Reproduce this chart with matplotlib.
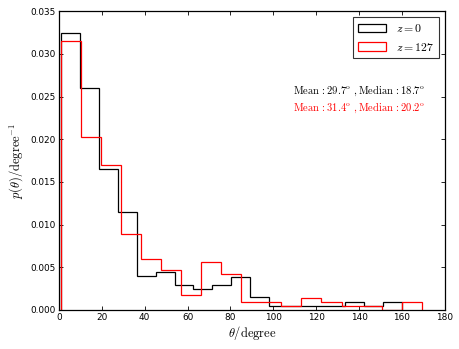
import numpy as np
import matplotlib
matplotlib.use("Agg")
import matplotlib.pyplot as plt

# bin edges (18 bins each) and densities
edges_z0 = np.linspace(0.9, 160.0, 19)
dens_z0 = [0.0325, 0.0260, 0.0165, 0.0115, 0.0040, 0.0044, 0.0029, 0.0024, 0.0029,
           0.0039, 0.0015, 0.00047, 0.00047, 0.00047, 0.00047, 0.0009, 0.00047, 0.0009]

edges_z127 = np.linspace(1.0, 169.2, 19)
dens_z127 = [0.0315, 0.0203, 0.0170, 0.0089, 0.0060, 0.0047, 0.0018, 0.0056, 0.0042,
             0.0009, 0.0009, 0.00047, 0.00135, 0.0009, 0.00047, 0.00047, 0.0, 0.0009]

stats_z0 = r"$\mathrm{Mean}\,:29.7^{\rm o}\ ,\mathrm{Median}\,:18.7^{\rm o}$"
stats_z127 = r"$\mathrm{Mean}\,:31.4^{\rm o}\ ,\mathrm{Median}\,:20.2^{\rm o}$"

plt.rcParams['mathtext.fontset'] = 'cm'
plt.rcParams['font.size'] = 6.4

fig = plt.figure(figsize=(4.6, 3.49), dpi=100)
ax = fig.add_axes([0.128, 0.112, 0.839, 0.856])

ax.hist(edges_z0[:-1], bins=edges_z0, weights=dens_z0, histtype='step',
        color='black', lw=0.9, label='$z=0$')
ax.hist(edges_z127[:-1], bins=edges_z127, weights=dens_z127, histtype='step',
        color='red', lw=0.9, label='$z=127$')

ax.text(109, 0.0257, stats_z0, color='black', fontsize=7.6, va='center')
ax.text(109, 0.0237, stats_z127, color='red', fontsize=7.6, va='center')

ax.set_xlim(0, 180)
ax.set_ylim(0, 0.035)
ax.set_xticks(np.arange(0, 181, 20))
ax.set_yticks(np.arange(0, 0.0351, 0.005))
ax.tick_params(direction='in', top=True, right=True, length=3, width=0.6, pad=2)
for s in ax.spines.values():
    s.set_linewidth(0.9)

ax.set_xlabel('$\\theta/\\mathrm{degree}$', fontsize=9, labelpad=2)
ax.set_ylabel('$p(\\theta)/\\mathrm{degree}^{-1}$', fontsize=9, labelpad=4)

leg = ax.legend(loc='upper right', fancybox=False, edgecolor='black',
                fontsize=8.5, handlelength=2.4, borderpad=0.4)
leg.get_frame().set_linewidth(0.8)

fig.savefig("out.png", dpi=100)
